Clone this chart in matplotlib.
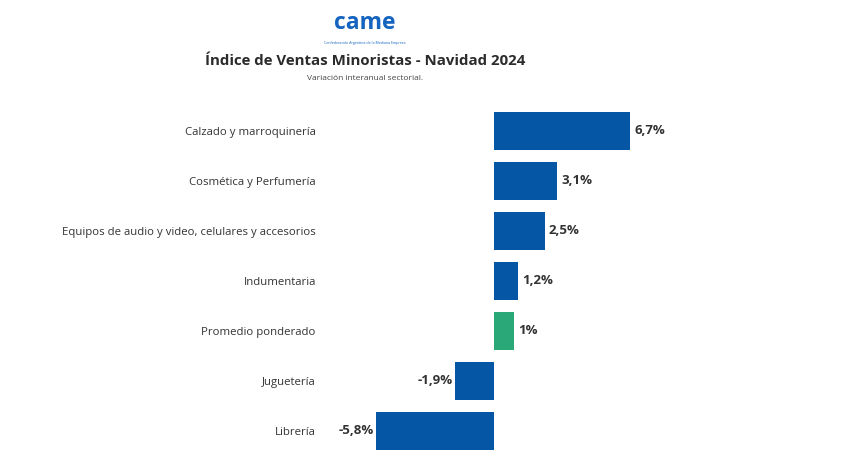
import matplotlib.pyplot as plt

# Datos
categorias = [
    'Calzado y marroquinería',
    'Cosmética y Perfumería',
    'Equipos de audio y video, celulares y accesorios',
    'Indumentaria',
    'Promedio ponderado',
    'Juguetería',
    'Librería',
]
variacion = [6.7, 3.1, 2.5, 1.2, 1.0, -1.9, -5.8]
etiquetas = ['6,7%', '3,1%', '2,5%', '1,2%', '1%', '-1,9%', '-5,8%']

AZUL = '#0556a4'
VERDE = '#2aa877'
TEXTO = '#333333'

plt.rcParams['font.family'] = ['Open Sans', 'DejaVu Sans']

fig = plt.figure(figsize=(8.49, 4.70), dpi=100)
ax = fig.add_axes([320 / 849, 1 - 456 / 470, 380 / 849, 350 / 470])

colores = [VERDE if c == 'Promedio ponderado' else AZUL for c in categorias]
pos = list(range(len(categorias)))
ax.barh(pos, variacion, height=0.76, color=colores)

ax.set_xlim((320 - 494) / 20.3, (700 - 494) / 20.3)
ax.set_ylim(len(categorias) - 0.5, -0.5)
ax.set_yticks(pos)
ax.set_yticklabels(categorias, fontsize=8.2, color=TEXTO)
ax.tick_params(axis='y', length=0, pad=3)
ax.set_xticks([])
for s in ax.spines.values():
    s.set_visible(False)

# Etiquetas de valor
for p, v, t in zip(pos, variacion, etiquetas):
    if v >= 0:
        ax.annotate(t, (v, p), xytext=(3, 0), textcoords='offset points',
                    ha='left', va='center', fontsize=9.5, fontweight='bold', color=TEXTO)
    else:
        ax.annotate(t, (v, p), xytext=(-2, 0), textcoords='offset points',
                    ha='right', va='center', fontsize=9.5, fontweight='bold', color=TEXTO)

# Logo y títulos
fig.text(365 / 849, 1 - 23 / 470, 'came', ha='center', va='center', fontsize=16.5,
         fontweight='bold', color='#1565c0')
fig.text(365 / 849, 1 - 43 / 470, 'Confederación Argentina de la Mediana Empresa',
         ha='center', va='center', fontsize=2.6, color='#1565c0')
fig.text(365 / 849, 1 - 61 / 470, 'Índice de Ventas Minoristas - Navidad 2024',
         ha='center', va='center', fontsize=10.8, fontweight='bold', color='#2b2b2b')
fig.text(365 / 849, 1 - 79 / 470, 'Variación interanual sectorial.',
         ha='center', va='center', fontsize=6, color='#444444')

fig.savefig('out.png', dpi=100)
